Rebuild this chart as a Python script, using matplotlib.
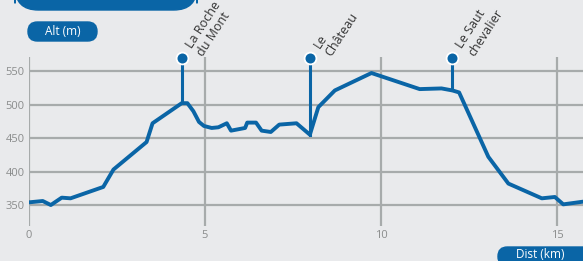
import matplotlib.pyplot as plt
from matplotlib.patches import FancyBboxPatch

# elevation profile
dist = [0, 0.39, 0.62, 0.93, 1.18, 2.11, 2.40, 3.34, 3.51, 4.34, 4.50, 4.67, 4.83,
        4.97, 5.19, 5.38, 5.62, 5.74, 6.14, 6.20, 6.45, 6.61, 6.87, 7.11, 7.60,
        7.98, 8.22, 8.69, 9.73, 11.10, 11.72, 12.03, 12.22, 13.05, 13.62, 14.57,
        14.94, 15.18, 15.74]
alt = [354, 356, 350, 361, 360, 377, 403, 444, 472, 502, 502, 490, 474,
       468, 465, 466, 472, 461, 465, 473, 473, 461, 459, 470, 472,
       455, 496, 521, 547, 523, 524, 521, 518, 422, 382, 360,
       362, 351, 355]

# points of interest
poi_names = ["La Roche\ndu Mont", "Le\nChâteau", "Le Saut\nchevalier"]
poi_dist = [4.34, 7.98, 12.03]
poi_alt = [502, 455, 521]

x_ticks = [0, 5, 10, 15]
y_ticks = [350, 400, 450, 500, 550]

bg = "#e9eaec"
blue = "#0a65a6"
grid = "#a7abab"

plt.rcParams['font.family'] = ['Open Sans', 'DejaVu Sans']

fig = plt.figure(figsize=(5.83, 2.61), dpi=100)
fig.patch.set_facecolor(bg)
ax = fig.add_axes([29 / 583, 35 / 261, 554 / 583, 169 / 261])
ax.set_facecolor(bg)
ax.set_xlim(0, 15.74)
ax.set_ylim(318.7, 570.9)

for v in x_ticks:
    ax.axvline(v, color=grid, lw=1.6, zorder=1)
for v in y_ticks:
    ax.axhline(v, color=grid, lw=1.6, zorder=1)

for s in ax.spines.values():
    s.set_visible(False)
ax.set_xticks(x_ticks)
ax.set_yticks(y_ticks)
ax.tick_params(length=0, colors="#8a8c8c", labelsize=8, pad=3)

ax.plot(dist, alt, color=blue, lw=2.8, zorder=3, solid_joinstyle='round')

top_y = 570
for name, d, a in zip(poi_names, poi_dist, poi_alt):
    ax.plot([d, d], [a, top_y], color=blue, lw=2.2, zorder=3)
    ax.plot(d, top_y, 'o', ms=8.5, color=blue, mec="white", mew=1.3,
            zorder=4, clip_on=False)
    ax.annotate(name, (d, top_y), xytext=(1, 10), textcoords='offset points',
                rotation=57, rotation_mode='anchor', ha='left', va='top',
                fontsize=9, color="#333333", linespacing=1.1,
                annotation_clip=False)

# banner and axis pills
fig.patches.append(FancyBboxPatch((15 / 583, 1 - 10 / 261), 182 / 583, 30 / 261,
                                  boxstyle="round,pad=0,rounding_size=0.04",
                                  transform=fig.transFigure, color=blue,
                                  mutation_aspect=583 / 261))
fig.patches.append(FancyBboxPatch((28 / 583, 1 - 41 / 261), 69 / 583, 19 / 261,
                                  boxstyle="round,pad=0,rounding_size=0.016",
                                  transform=fig.transFigure, color=blue,
                                  mutation_aspect=583 / 261))
fig.text(62.5 / 583, 1 - 31.5 / 261, "Alt (m)", color="white", fontsize=8.5,
         ha='center', va='center')
fig.patches.append(FancyBboxPatch((498 / 583, -5 / 261), 100 / 583, 19 / 261,
                                  boxstyle="round,pad=0,rounding_size=0.016",
                                  transform=fig.transFigure, color=blue,
                                  mutation_aspect=583 / 261))
fig.text(540 / 583, 1 - 254 / 261, "Dist (km)", color="white", fontsize=8.5,
         ha='center', va='center')

fig.savefig("out.png", dpi=100, facecolor=bg)
